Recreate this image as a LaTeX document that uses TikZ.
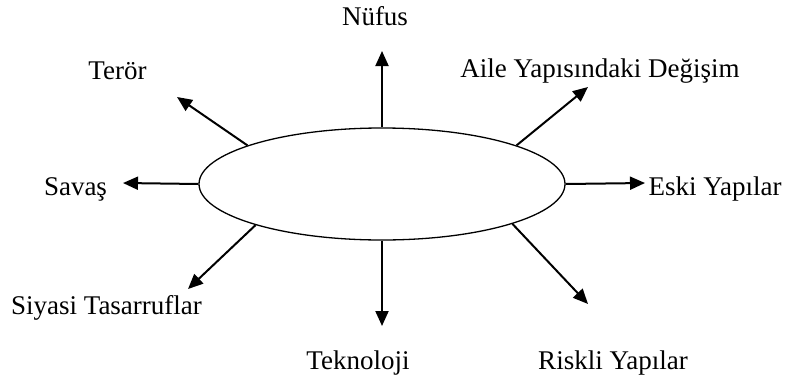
\documentclass[tikz,border=0pt]{standalone}
\usepackage{fontspec}
\setmainfont{Liberation Serif}
\usetikzlibrary{arrows.meta,shapes.geometric}

\begin{document}
\begin{tikzpicture}[x=1pt, y=-1pt, >={Triangle[length=15pt,width=13pt]},
  word/.style={anchor=base, inner sep=0pt, font=\fontsize{27}{32}\selectfont},
  spoke/.style={->, line width=2pt}]
  \useasboundingbox (0,0) rectangle (786,380);

  % Central ellipse
  \node[ellipse, draw, line width=1.3pt, minimum width=366pt, minimum height=112pt, inner sep=0pt] (core) at (382,184) {};

  % Free ends of the arrows
  \coordinate (tNufus)   at (382,51);
  \coordinate (tTeror)   at (177,97);
  \coordinate (tAile)    at (588,87);
  \coordinate (tSavas)   at (123,183);
  \coordinate (tEski)    at (645,183);
  \coordinate (tSiyasi)  at (188,289);
  \coordinate (tTekno)   at (382,326);
  \coordinate (tRiskli)  at (588,304);

  % Labels
  \node[word] (nufus)  at (375,25)   {Nüfus};
  \node[word] (teror)  at (117.5,79) {Terör};
  \node[word] (aile)   at (600,77)   {Aile Yapısındaki Değişim};
  \node[word] (savas)  at (75.5,195) {Savaş};
  \node[word] (eski)   at (715,195)  {Eski Yapılar};
  \node[word] (siyasi) at (106.5,314) {Siyasi Tasarruflar};
  \node[word] (tekno)  at (358,369)  {Teknoloji};
  \node[word] (riskli) at (613,369)  {Riskli Yapılar};

  % Arrows out of the ellipse
  \draw[spoke] (core.north) -- (tNufus);
  \draw[spoke] (core.164)   -- (tTeror);
  \draw[spoke] (core.16)    -- (tAile);
  \draw[spoke] (core.west)  -- (tSavas);
  \draw[spoke] (core.east)  -- (tEski);
  \draw[spoke] (core.198)   -- (tSiyasi);
  \draw[spoke] (core.south) -- (tTekno);
  \draw[spoke] (core.343)   -- (tRiskli);
\end{tikzpicture}
\end{document}
